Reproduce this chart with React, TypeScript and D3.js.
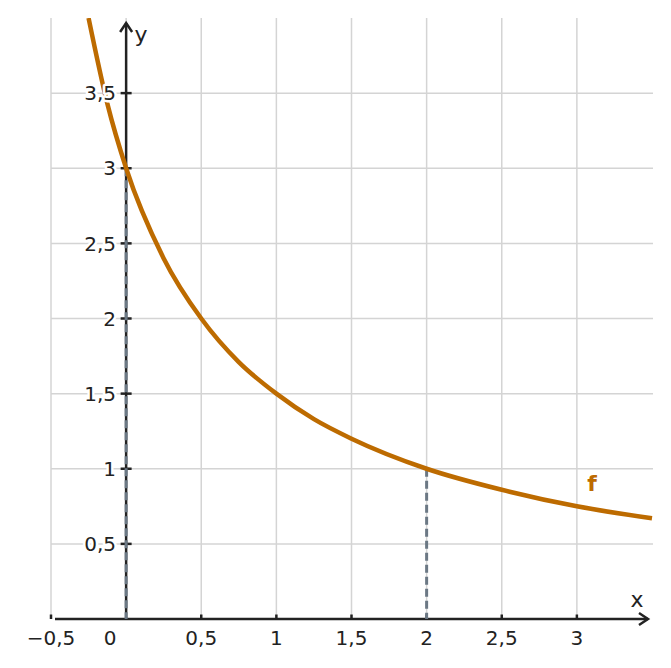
import React from 'react';
import * as d3 from 'd3';

// values
const curveX = [-0.25, -0.125, 0, 0.25, 0.5, 0.75, 1, 1.25, 1.5, 2, 2.5, 3, 3.5];
const curveY = [4, 3.43, 3, 2.4, 2, 1.71, 1.5, 1.33, 1.2, 1, 0.86, 0.75, 0.67];
const guideX = [0, 2];
const guideY = [3, 1];
const xTicks = [-0.5, 0.5, 1, 1.5, 2, 2.5, 3];
const xTickLabels = ['−0,5', '0,5', '1', '1,5', '2', '2,5', '3'];
const yTicks = [0.5, 1, 1.5, 2, 2.5, 3, 3.5];
const yTickLabels = ['0,5', '1', '1,5', '2', '2,5', '3', '3,5'];
const gridX = [-0.5, 0, 0.5, 1, 1.5, 2, 2.5, 3];
const gridY = [0.5, 1, 1.5, 2, 2.5, 3, 3.5];

const W = 671;
const H = 668;
const CURVE = '#bd6b00';
const AXIS = '#222222';
const GRID = '#d4d4d4';
const GUIDE = '#6b7884';
const FONT = 'DejaVu Sans, sans-serif';

const App: React.FC = () => {
  const x = d3.scaleLinear().domain([-0.5, 3.5]).range([51, 652]);
  const y = d3.scaleLinear().domain([0, 4]).range([619, 18]);

  const pts: [number, number][] = curveX.map((v, i) => [v, curveY[i]]);
  const line = d3.line<[number, number]>()
    .x(d => x(d[0]))
    .y(d => y(d[1]))
    .curve(d3.curveMonotoneX);

  const x0 = x(0);
  const y0 = y(0);
  const halo = { paintOrder: 'stroke' as const, stroke: '#fff', strokeWidth: 5, strokeLinejoin: 'round' as const };

  return (
    <svg width={W} height={H} style={{ position: 'absolute', left: 0, top: 0 }} fontFamily={FONT}>
      <defs>
        <clipPath id="plot">
          <rect x={x(-0.5)} y={y(4)} width={x(3.5) - x(-0.5) + 1} height={y(0) - y(4)} />
        </clipPath>
      </defs>

      {/* grid */}
      {gridX.map(v => (
        <line key={`gx${v}`} x1={x(v)} x2={x(v)} y1={y(4)} y2={y0} stroke={GRID} strokeWidth={1.5} />
      ))}
      {gridY.map(v => (
        <line key={`gy${v}`} x1={x(-0.5)} x2={x(3.5) + 1} y1={y(v)} y2={y(v)} stroke={GRID} strokeWidth={1.5} />
      ))}

      {/* axes */}
      <line x1={55} x2={x(3.5) - 4} y1={y0} y2={y0} stroke={AXIS} strokeWidth={2.5} />
      <polyline
        points={`${x(3.5) - 13},${y0 - 6} ${x(3.5) - 4},${y0} ${x(3.5) - 13},${y0 + 6}`}
        fill="none" stroke={AXIS} strokeWidth={2.5} strokeLinejoin="miter"
      />
      <line x1={x0} x2={x0} y1={y0} y2={23} stroke={AXIS} strokeWidth={2.5} />
      <polyline
        points={`${x0 - 6},${32} ${x0},${23} ${x0 + 6},${32}`}
        fill="none" stroke={AXIS} strokeWidth={2.5} strokeLinejoin="miter"
      />

      {/* ticks */}
      {xTicks.map(v => (
        <line key={`tx${v}`} x1={x(v)} x2={x(v)} y1={y0 - 4.5} y2={y0} stroke={AXIS} strokeWidth={2.5} />
      ))}
      {yTicks.map(v => (
        <line key={`ty${v}`} x1={x0 - 5.5} x2={x0 + 5.5} y1={y(v)} y2={y(v)} stroke={AXIS} strokeWidth={2.5} />
      ))}

      {/* guides */}
      {guideX.map((gx, i) => (
        <line key={`g${gx}`} x1={x(gx)} x2={x(gx)} y1={y(guideY[i])} y2={y0}
          stroke={GUIDE} strokeWidth={3} strokeDasharray="8,4" />
      ))}

      {/* curve */}
      <path d={line(pts) || ''} fill="none" stroke={CURVE} strokeWidth={4.5} clipPath="url(#plot)" />

      {/* tick labels */}
      {xTicks.map((v, i) => (
        <text key={`lx${v}`} x={x(v)} y={645} textAnchor="middle" fontSize={20} fill={AXIS} style={halo}>
          {xTickLabels[i]}
        </text>
      ))}
      <text x={x0 - 16} y={645} textAnchor="middle" fontSize={20} fill={AXIS} style={halo}>0</text>
      {yTicks.map((v, i) => (
        <text key={`ly${v}`} x={116} y={y(v)} dy="0.36em" textAnchor="end" fontSize={20} fill={AXIS} style={halo}>
          {yTickLabels[i]}
        </text>
      ))}

      {/* axis names */}
      <text x={637} y={607} textAnchor="middle" fontSize={22} fill={AXIS}>x</text>
      <text x={141} y={42} textAnchor="middle" fontSize={22} fill={AXIS}>y</text>
      <text x={592} y={491} textAnchor="middle" fontSize={22} fontWeight="bold" fill={CURVE}>f</text>
    </svg>
  );
};

export default App;
